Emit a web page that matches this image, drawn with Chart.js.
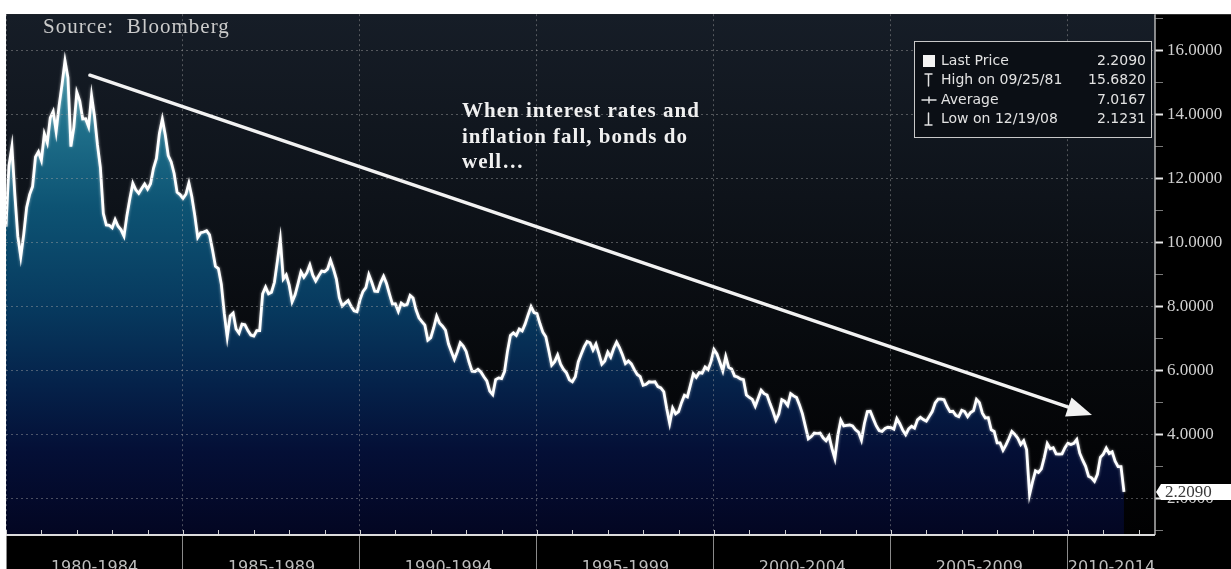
<!DOCTYPE html>
<html>
<head>
<meta charset="utf-8">
<title>Yield 1980-2011 (Bloomberg)</title>
<script src="https://cdn.jsdelivr.net/npm/chart.js@4.4.1/dist/chart.umd.min.js"></script>
<style>
  html, body { margin: 0; padding: 0; background: #fff; }
  #wrap { width: 1231px; height: 569px; position: relative; }
</style>
</head>
<body>
<div id="wrap"><canvas id="chart"></canvas></div>
<script>
// monthly values, Jan 1980 .. Aug 2011
const startYear = 1980;
const yields1980s = [
  10.5, 12.4, 13.0, 11.5, 10.2, 9.55, 10.25, 11.1, 11.5, 11.75, 12.68, 12.84,
  12.57, 13.4, 13.12, 13.9, 14.1, 13.47, 14.28, 14.94, 15.68, 15.15, 13.0, 13.6,
  14.7, 14.43, 13.86, 13.87, 13.62, 14.6, 13.95, 13.06, 12.34, 10.91, 10.55, 10.54,
  10.46, 10.72, 10.51, 10.4, 10.2, 10.85, 11.38, 11.85, 11.65, 11.54, 11.69, 11.83,
  11.67, 11.84, 12.32, 12.63, 13.41, 13.86, 13.36, 12.72, 12.52, 12.16, 11.57, 11.5,
  11.38, 11.51, 11.86, 11.43, 10.85, 10.16, 10.31, 10.33, 10.37, 10.24, 9.78, 9.26,
  9.19, 8.7, 7.78, 7.05, 7.71, 7.8, 7.3, 7.17, 7.45, 7.43, 7.25, 7.11,
  7.08, 7.25, 7.25, 8.4, 8.61, 8.4, 8.45, 8.76, 9.42, 10.1, 8.86, 8.99,
  8.67, 8.15, 8.37, 8.72, 9.09, 8.92, 9.06, 9.3, 8.98, 8.8, 8.96, 9.11,
  9.09, 9.17, 9.45, 9.18, 8.86, 8.28, 8.02, 8.11, 8.19, 8.01, 7.87, 7.84
];
const yields1990s = [
  8.21, 8.47, 8.59, 9.0, 8.76, 8.48, 8.47, 8.75, 8.95, 8.72, 8.39, 8.08,
  8.09, 7.85, 8.11, 8.04, 8.07, 8.35, 8.27, 7.9, 7.65, 7.53, 7.42, 6.95,
  7.03, 7.34, 7.7, 7.48, 7.39, 7.26, 6.84, 6.59, 6.35, 6.59, 6.87, 6.77,
  6.6, 6.26, 5.98, 5.97, 6.04, 5.96, 5.81, 5.68, 5.36, 5.25, 5.72, 5.77,
  5.75, 5.97, 6.6, 7.1, 7.18, 7.1, 7.3, 7.24, 7.46, 7.74, 8.0, 7.81,
  7.78, 7.47, 7.2, 7.06, 6.63, 6.17, 6.28, 6.49, 6.2, 6.04, 5.93, 5.71,
  5.65, 5.81, 6.27, 6.51, 6.74, 6.91, 6.87, 6.64, 6.83, 6.53, 6.2, 6.3,
  6.58, 6.42, 6.69, 6.89, 6.71, 6.49, 6.22, 6.3, 6.21, 6.03, 5.88, 5.81,
  5.54, 5.57, 5.65, 5.64, 5.65, 5.5, 5.46, 5.34, 4.81, 4.35, 4.83, 4.65,
  4.72, 5.0, 5.23, 5.18, 5.54, 5.9, 5.79, 5.94, 5.92, 6.11, 6.03, 6.28
];
const yields2000s = [
  6.66, 6.52, 6.26, 5.99, 6.44, 6.1, 6.05, 5.83, 5.8, 5.74, 5.72, 5.24,
  5.16, 5.1, 4.89, 5.14, 5.39, 5.28, 5.24, 4.97, 4.73, 4.45, 4.65, 5.09,
  5.04, 4.91, 5.28, 5.21, 5.16, 4.93, 4.65, 4.26, 3.87, 3.94, 4.05, 4.03,
  4.05, 3.9, 3.81, 3.96, 3.57, 3.25, 3.98, 4.45, 4.27, 4.29, 4.3, 4.27,
  4.15, 4.08, 3.83, 4.35, 4.72, 4.73, 4.5, 4.28, 4.13, 4.1, 4.19, 4.23,
  4.22, 4.17, 4.5, 4.34, 4.14, 4.0, 4.18, 4.26, 4.2, 4.46, 4.54, 4.47,
  4.42, 4.57, 4.72, 4.99, 5.11, 5.11, 5.09, 4.88, 4.72, 4.73, 4.6, 4.56,
  4.76, 4.72, 4.56, 4.69, 4.75, 5.1, 5.0, 4.67, 4.52, 4.53, 4.15, 4.1,
  3.74, 3.74, 3.51, 3.68, 3.88, 4.1, 4.01, 3.89, 3.69, 3.81, 3.53, 2.13,
  2.52, 2.87, 2.82, 2.93, 3.29, 3.72, 3.56, 3.59, 3.4, 3.39, 3.4, 3.59
];
const yields2010s = [
  3.73, 3.69, 3.73, 3.85, 3.42, 3.2, 3.01, 2.7, 2.65, 2.54, 2.76, 3.29,
  3.39, 3.58, 3.41, 3.46, 3.17, 3.0, 3.0, 2.209
];

const periodLabels = ["1980-1984", "1985-1989", "1990-1994", "1995-1999", "2000-2004", "2005-2009", "2010-2014"];
const periodCenters = [1982.5, 1987.5, 1992.5, 1997.5, 2002.5, 2007.5, 2011.23];
const legendNames = ["Last Price", "High on 09/25/81", "Average", "Low on 12/19/08"];
const legendValues = ["2.2090", "15.6820", "7.0167", "2.1231"];
const noteLines = ["When interest rates and", "inflation fall, bonds do", "well…"];
const sourceText = "Source:  Bloomberg";
const lastPrice = 2.209;
const arrowFrom = { x: 1982.37, y: 15.23 };
const arrowTo = { x: 2010.68, y: 4.61 };

const xMin = 1980, xMax = 2012.46;
const yMin = 0.864, yMax = 17.136;

const yields = [...yields1980s, ...yields1990s, ...yields2000s, ...yields2010s];
const points = yields.map((v, i) => ({ x: startYear + i / 12, y: v }));

const yearTicks = [];
for (let yr = 1980; yr <= 2012; yr++) yearTicks.push(yr);
const isMajorYear = v => Number.isInteger(v) && v % 5 === 0;

function areaFill(context) {
  const { chart } = context;
  const a = chart.chartArea;
  if (!a) return null;
  const g = chart.ctx.createLinearGradient(0, a.top, 0, a.bottom);
  g.addColorStop(0, "#4a9eb0");
  g.addColorStop(0.075, "#3e93a5");
  g.addColorStop(0.22, "#1f6f8a");
  g.addColorStop(0.37, "#0d5373");
  g.addColorStop(0.56, "#073a5f");
  g.addColorStop(0.71, "#05224a");
  g.addColorStop(0.84, "#040f36");
  g.addColorStop(1, "#030622");
  return g;
}

const decor = {
  id: "decor",
  beforeDraw(chart) {
    const { ctx, chartArea: a, width, height } = chart;
    ctx.save();
    ctx.fillStyle = "#fff";
    ctx.fillRect(0, 0, width, height);
    ctx.fillStyle = "#000";
    ctx.fillRect(a.left, a.top, width - a.left, height - a.top);
    const g = ctx.createLinearGradient(0, a.top, 0, a.bottom);
    g.addColorStop(0, "#161d27");
    g.addColorStop(0.35, "#0e131a");
    g.addColorStop(0.7, "#06080b");
    g.addColorStop(1, "#010102");
    ctx.fillStyle = g;
    ctx.fillRect(a.left, a.top, a.right - a.left, a.bottom - a.top);
    ctx.restore();
  },
  beforeDatasetDraw(chart) {
    const ctx = chart.ctx;
    ctx.save();
    ctx.shadowColor = "rgba(255,255,255,0.6)";
    ctx.shadowBlur = 3;
  },
  afterDatasetDraw(chart) {
    chart.ctx.restore();
  },
  afterDraw(chart) {
    const { ctx, chartArea: a, width } = chart;
    const xs = chart.scales.x, ys = chart.scales.y;
    ctx.save();

    // axis lines
    ctx.strokeStyle = "#b5b5b5";
    ctx.lineWidth = 1.5;
    ctx.beginPath();
    ctx.moveTo(a.right, a.top);
    ctx.lineTo(a.right, a.bottom);
    ctx.stroke();
    ctx.strokeStyle = "#dcdcdc";
    ctx.lineWidth = 2;
    ctx.beginPath();
    ctx.moveTo(a.left, a.bottom);
    ctx.lineTo(a.right, a.bottom);
    ctx.stroke();

    // minor year ticks
    ctx.strokeStyle = "#cfcfcf";
    ctx.lineWidth = 1;
    yearTicks.forEach(yr => {
      const px = Math.round(xs.getPixelForValue(yr)) + 0.5;
      ctx.beginPath();
      ctx.moveTo(px, a.bottom - 1);
      ctx.lineTo(px, a.bottom - 5);
      ctx.stroke();
    });

    // trend arrow
    const x0 = xs.getPixelForValue(arrowFrom.x), y0 = ys.getPixelForValue(arrowFrom.y);
    const x1 = xs.getPixelForValue(arrowTo.x), y1 = ys.getPixelForValue(arrowTo.y);
    const ang = Math.atan2(y1 - y0, x1 - x0);
    const headLen = 25, headHalf = 10;
    const bx = x1 - headLen * Math.cos(ang), by = y1 - headLen * Math.sin(ang);
    ctx.strokeStyle = "#f2f2f2";
    ctx.lineWidth = 3.5;
    ctx.lineCap = "round";
    ctx.beginPath();
    ctx.moveTo(x0, y0);
    ctx.lineTo(bx, by);
    ctx.stroke();
    ctx.fillStyle = "#f2f2f2";
    ctx.beginPath();
    ctx.moveTo(x1, y1);
    ctx.lineTo(bx + headHalf * Math.sin(ang), by - headHalf * Math.cos(ang));
    ctx.lineTo(bx - headHalf * Math.sin(ang), by + headHalf * Math.cos(ang));
    ctx.closePath();
    ctx.fill();

    // texts
    ctx.textBaseline = "alphabetic";
    ctx.textAlign = "left";
    ctx.letterSpacing = "1px";
    ctx.fillStyle = "#cbcbcb";
    ctx.font = '21px "Liberation Serif"';
    ctx.fillText(sourceText, 43, 33);
    ctx.fillStyle = "#f0f0f0";
    ctx.font = 'bold 21px "Liberation Serif"';
    noteLines.forEach((t, i) => ctx.fillText(t, 462, 117 + i * 25.5));
    ctx.letterSpacing = "0px";

    // legend box
    const bx0 = 914, by0 = 41, bw = 237, bh = 96;
    ctx.fillStyle = "#0b0f15";
    ctx.fillRect(bx0, by0, bw, bh);
    ctx.strokeStyle = "#c8c8c8";
    ctx.lineWidth = 1;
    ctx.strokeRect(bx0 + 0.5, by0 + 0.5, bw, bh);
    ctx.font = '14px "DejaVu Sans"';
    ctx.textBaseline = "middle";
    const rowY = [61, 80, 100, 119];
    legendNames.forEach((name, i) => {
      ctx.fillStyle = "#e2e2e2";
      ctx.textAlign = "left";
      ctx.fillText(name, 941, rowY[i]);
      ctx.textAlign = "right";
      ctx.fillText(legendValues[i], 1146, rowY[i]);
    });
    ctx.fillStyle = "#f4f4f4";
    ctx.fillRect(923, rowY[0] - 6, 12, 12);
    ctx.strokeStyle = "#e2e2e2";
    ctx.lineWidth = 1.5;
    ctx.beginPath();
    // high marker
    ctx.moveTo(925, rowY[1] - 6); ctx.lineTo(932, rowY[1] - 6);
    ctx.moveTo(928.5, rowY[1] - 6); ctx.lineTo(928.5, rowY[1] + 6);
    // average marker
    ctx.moveTo(922, rowY[2]); ctx.lineTo(936, rowY[2]);
    ctx.moveTo(929, rowY[2] - 3); ctx.lineTo(929, rowY[2] + 3);
    // low marker
    ctx.moveTo(928.5, rowY[3] - 6); ctx.lineTo(928.5, rowY[3] + 6);
    ctx.moveTo(925, rowY[3] + 6); ctx.lineTo(932, rowY[3] + 6);
    ctx.stroke();

    // last price tag
    const ty = ys.getPixelForValue(lastPrice);
    ctx.fillStyle = "#ffffff";
    ctx.beginPath();
    ctx.moveTo(a.right + 1, ty);
    ctx.lineTo(a.right + 6, ty - 8);
    ctx.lineTo(width, ty - 8);
    ctx.lineTo(width, ty + 8);
    ctx.lineTo(a.right + 6, ty + 8);
    ctx.closePath();
    ctx.fill();
    ctx.fillStyle = "#3a3a3a";
    ctx.textAlign = "left";
    ctx.font = '17px "Liberation Serif"';
    ctx.fillText(lastPrice.toFixed(4), a.right + 10, ty + 1);

    ctx.restore();
  }
};

new Chart(document.getElementById("chart"), {
  type: "line",
  data: {
    datasets: [{
      data: points,
      borderColor: "#ffffff",
      borderWidth: 2.8,
      pointRadius: 0,
      tension: 0,
      fill: "start",
      backgroundColor: areaFill
    }]
  },
  options: {
    responsive: true,
    maintainAspectRatio: false,
    animation: false,
    devicePixelRatio: 1,
    layout: { padding: { left: 6, top: 5, right: 0, bottom: 0 } },
    plugins: { legend: { display: false }, tooltip: { enabled: false } },
    scales: {
      x: {
        type: "linear",
        min: xMin,
        max: xMax,
        afterBuildTicks: s => {
          s.ticks = [...yearTicks, ...periodCenters].sort((p, q) => p - q).map(v => ({ value: v }));
        },
        afterFit: s => { s.height = 34; },
        grid: {
          z: 1,
          color: c => isMajorYear(c.tick.value) ? "rgba(165,165,165,0.45)" : "transparent",
          lineWidth: 1,
          tickLength: 34,
          tickWidth: 1,
          tickColor: c => isMajorYear(c.tick.value) ? "#8a8a8a" : "transparent"
        },
        border: { display: false, dash: [2, 3] },
        ticks: {
          autoSkip: false,
          maxRotation: 0,
          padding: -11,
          color: "#bdbdbd",
          font: { family: "DejaVu Sans", size: 16 },
          callback: v => {
            const k = periodCenters.indexOf(v);
            return k < 0 ? "" : periodLabels[k];
          }
        }
      },
      y: {
        position: "right",
        min: yMin,
        max: yMax,
        afterBuildTicks: s => {
          const t = [];
          for (let v = 1; v <= 17; v++) t.push({ value: v });
          s.ticks = t;
        },
        afterFit: s => { s.width = 76; },
        grid: {
          z: 1,
          color: c => c.tick.value % 2 === 0 ? "rgba(165,165,165,0.45)" : "transparent",
          lineWidth: 1,
          tickLength: 8,
          tickWidth: c => c.tick.value % 2 === 0 ? 2 : 1,
          tickColor: c => c.tick.value % 2 === 0 ? "#e8e8e8" : "#7a7a7a"
        },
        border: { display: false, dash: [2, 3] },
        ticks: {
          autoSkip: false,
          padding: 4,
          color: "#cfcfcf",
          font: { family: "Liberation Serif", size: 17 },
          callback: v => v % 2 === 0 ? v.toFixed(4) : ""
        }
      }
    }
  },
  plugins: [decor]
});
</script>
</body>
</html>
